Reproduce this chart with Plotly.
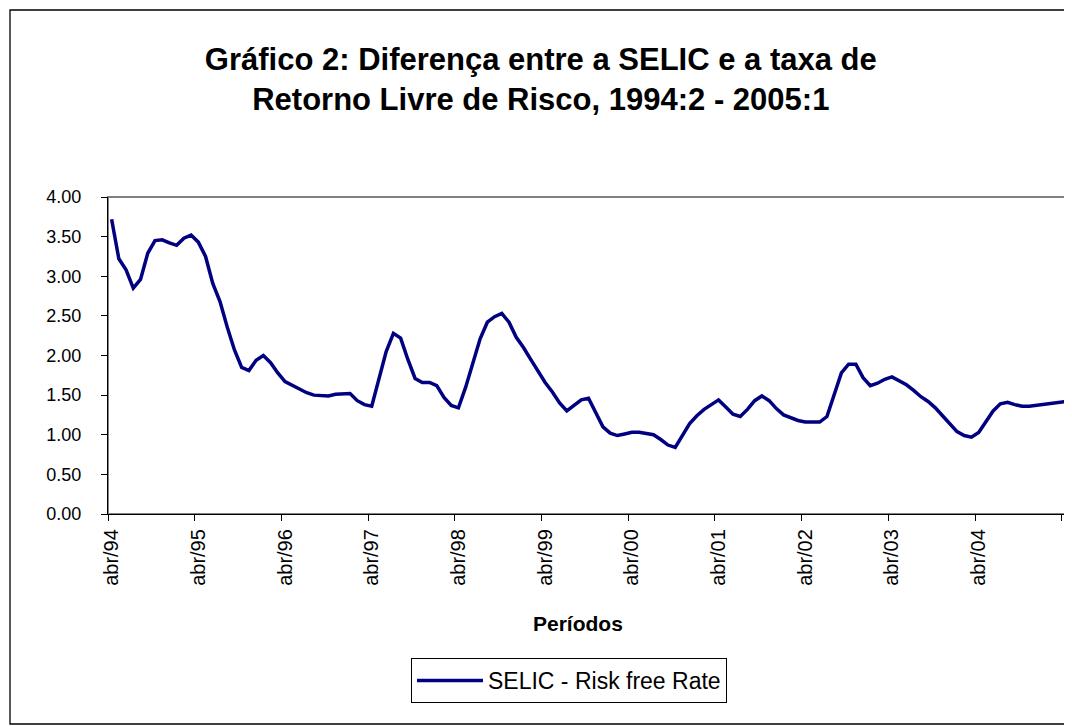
import plotly.graph_objects as go

# ---- data ----
month_names = ["jan", "fev", "mar", "abr", "mai", "jun", "jul", "ago", "set", "out", "nov", "dez"]
start_year = 1994
start_month_index = 3  # abr

spread = [
    3.72, 3.22, 3.08, 2.85, 2.96, 3.29, 3.45, 3.46, 3.42, 3.39, 3.48, 3.52,
    3.43, 3.25, 2.91, 2.68, 2.36, 2.07, 1.85, 1.81, 1.94, 2.00, 1.91, 1.78,
    1.67, 1.62, 1.58, 1.53, 1.50, 1.49, 1.49, 1.51, 1.52, 1.52, 1.43, 1.38,
    1.36, 1.70, 2.05, 2.28, 2.22, 1.95, 1.71, 1.66, 1.66, 1.62, 1.47, 1.37,
    1.34, 1.60, 1.92, 2.21, 2.42, 2.49, 2.53, 2.42, 2.23, 2.10, 1.95, 1.80,
    1.66, 1.54, 1.40, 1.30, 1.37, 1.44, 1.46, 1.28, 1.10, 1.02, 0.99, 1.01,
    1.03, 1.03, 1.02, 1.00, 0.94, 0.87, 0.84, 0.98, 1.14, 1.24, 1.32, 1.38,
    1.44, 1.35, 1.26, 1.23, 1.32, 1.43, 1.49, 1.43, 1.33, 1.25, 1.21, 1.18,
    1.16, 1.16, 1.16, 1.23, 1.50, 1.78, 1.89, 1.89, 1.72, 1.62, 1.65, 1.70,
    1.73, 1.68, 1.63, 1.56, 1.48, 1.42, 1.34, 1.24, 1.14, 1.04, 0.99, 0.97,
    1.03, 1.16, 1.30, 1.39, 1.41, 1.38, 1.36, 1.36, 1.37, 1.38, 1.39, 1.40,
    1.42,
]

periods = []
for k in range(len(spread)):
    m = (start_month_index + k) % 12
    y = start_year + (start_month_index + k) // 12
    periods.append(f"{month_names[m]}/{y % 100:02d}")

y_ticks = [0.0, 0.5, 1.0, 1.5, 2.0, 2.5, 3.0, 3.5, 4.0]
label_step = 12

series_name = "SELIC - Risk free Rate"
title_text = "<b>Gráfico 2: Diferença entre a SELIC e a taxa de<br>Retorno Livre de Risco, 1994:2 - 2005:1</b>"
x_title = "<b>Períodos</b>"

# ---- figure ----
W, H = 1072, 726
L, R, T, B = 100, 1061, 189, 506  # plot area pixels

idx = list(range(len(spread)))
label_idx = idx[:len(idx) - 1:label_step]          # abr/94 ... abr/04
boundary_ticks = [i - 0.5 for i in range(0, len(spread), label_step)]

FONT = "Arial, Liberation Sans, sans-serif"

fig = go.Figure()
fig.add_trace(go.Scatter(
    x=idx, y=spread, mode="lines", name=series_name,
    line=dict(color="#000080", width=3.5),
    customdata=periods, hovertemplate="%{customdata}: %{y:.2f}<extra></extra>",
))

def px_x(p):
    return (p - L) / (R - L)

def px_y(p):
    return (B - p) / (B - T)

fig.update_layout(
    width=W, height=H,
    margin=dict(l=L, r=W - R, t=T, b=H - B, pad=0),
    paper_bgcolor="white", plot_bgcolor="white",
    font=dict(family=FONT, color="black"),
    title=dict(text=title_text, x=0.497, xref="container", xanchor="center",
               y=1 - 62 / H, yref="container", yanchor="middle",
               font=dict(family=FONT, size=31, color="black")),
    showlegend=True,
    legend=dict(x=px_x(403), y=px_y(650), xanchor="left", yanchor="top",
                bordercolor="black", borderwidth=1, bgcolor="white",
                font=dict(family=FONT, size=23, color="black"),
                itemwidth=66),
    xaxis=dict(
        range=[-0.5, len(spread) - 0.5],
        tickmode="array", tickvals=label_idx, ticktext=[periods[i] for i in label_idx],
        tickangle=-90, ticks="", tickfont=dict(family=FONT, size=20, color="black"),
        showgrid=False, zeroline=False, showline=True, linecolor="black", linewidth=1.3,
        minor=dict(tickmode="array", tickvals=boundary_ticks, ticks="outside",
                   ticklen=6, tickcolor="black", tickwidth=1, showgrid=False),
        ticklabelstandoff=6,
    ),
    yaxis=dict(
        range=[0, 4], tickmode="array", tickvals=y_ticks, tickformat=".2f",
        ticks="outside", ticklen=6, tickcolor="black",
        tickfont=dict(family=FONT, size=18, color="black"),
        showgrid=False, zeroline=False, showline=True, linecolor="black", linewidth=1.3,
        ticklabelstandoff=16,
    ),
)

# plot-area frame (gray) and outer chart border
fig.add_shape(type="rect", xref="paper", yref="paper", x0=0, x1=1, y0=0, y1=1,
              line=dict(color="#808080", width=2), layer="below")
fig.add_shape(type="rect", xref="paper", yref="paper",
              x0=px_x(2), x1=px_x(1069), y0=px_y(716), y1=px_y(2),
              line=dict(color="black", width=1.3), layer="below")

fig.add_annotation(text=x_title, xref="paper", yref="paper",
                   x=px_x(570), y=px_y(615), showarrow=False,
                   xanchor="center", yanchor="middle",
                   font=dict(family=FONT, size=21, color="black"))

fig.write_html("out.html")
